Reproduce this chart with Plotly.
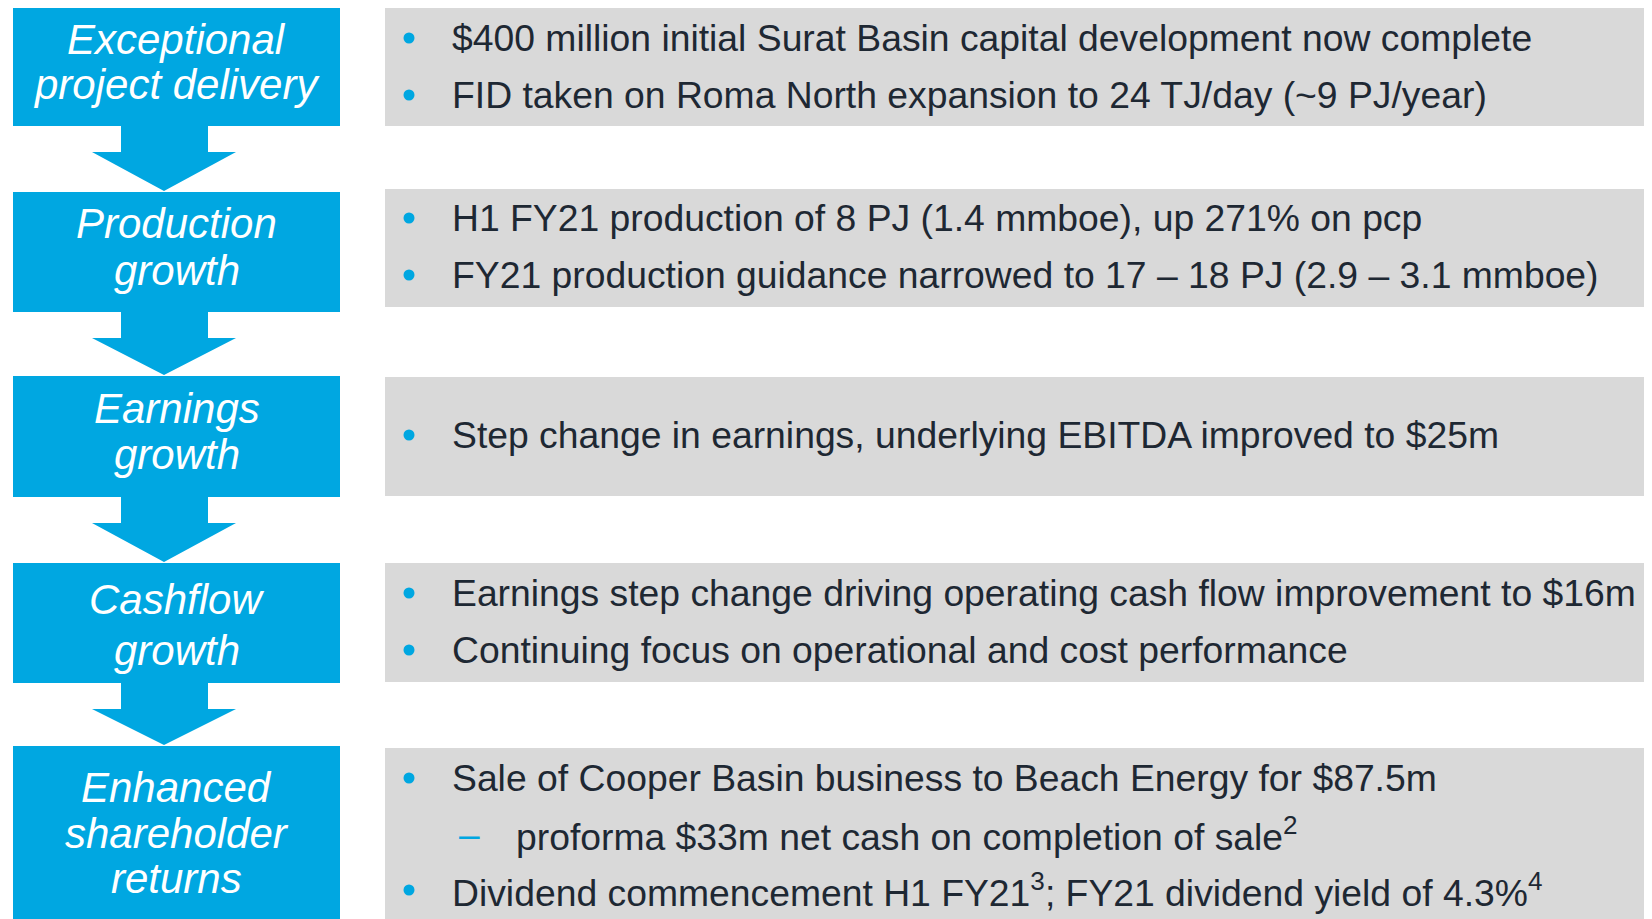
import plotly.graph_objects as go

W, H = 1652, 919
PAGE_PAD = 8  # browser's default body margin around the plot div

BLUE = "#00a7e1"
GREY = "#d9d9d9"
INK = "#1e2833"
FONT = "Arial, Liberation Sans, sans-serif"

# left-hand stages (one entry per line of label)
stage_labels = [
    ["Exceptional", "project delivery"],
    ["Production", "growth"],
    ["Earnings", "growth"],
    ["Cashflow", "growth"],
    ["Enhanced", "shareholder", "returns"],
]

# right-hand points: (level, text) — level 0 = bullet, 1 = dash sub-point
stage_points = [
    [(0, "$400 million initial Surat Basin capital development now complete"),
     (0, "FID taken on Roma North expansion to 24 TJ/day (~9 PJ/year)")],
    [(0, "H1 FY21 production of 8 PJ (1.4 mmboe), up 271% on pcp"),
     (0, "FY21 production guidance narrowed to 17 – 18 PJ (2.9 – 3.1 mmboe)")],
    [(0, "Step change in earnings, underlying EBITDA improved to $25m")],
    [(0, "Earnings step change driving operating cash flow improvement to $16m"),
     (0, "Continuing focus on operational and cost performance")],
    [(0, "Sale of Cooper Basin business to Beach Energy for $87.5m"),
     (1, "proforma $33m net cash on completion of sale<sup>2</sup>"),
     (0, "Dividend commencement H1 FY21<sup>3</sup>; FY21 dividend yield of 4.3%<sup>4</sup>")],
]

# layout geometry (page pixels, y downwards)
left_boxes = [(7, 126), (192, 312), (376, 497), (563, 683), (746, 925)]
grey_boxes = [(7, 126), (189, 307), (377, 496), (563, 682), (748, 925)]
label_y = [[39, 84], [223, 270], [408, 454], [599, 650], [787, 833, 878]]
point_y = [[38, 95], [218, 275], [435], [593, 650], [778, 834, 890]]

BOX_X0, BOX_X1 = 13, 340
SHAFT_X0, SHAFT_X1 = 121, 208
HEAD_X0, HEAD_X1, TIP_X = 92, 236, 164
GREY_X0 = 385
BULLET_X, TEXT_X = 409, 450
DASH_X, SUB_X = 469, 514

fig = go.Figure()
shapes = []
annotations = []

for i, labels in enumerate(stage_labels):
    y0, y1 = left_boxes[i]
    shapes.append(dict(type="rect", x0=BOX_X0, x1=BOX_X1, y0=y0, y1=y1,
                       fillcolor=BLUE, line_width=0, layer="below"))
    g0, g1 = grey_boxes[i]
    shapes.append(dict(type="rect", x0=GREY_X0, x1=W + 5, y0=g0, y1=g1,
                       fillcolor=GREY, line_width=0, layer="below"))

    # down arrow to next stage
    if i < len(stage_labels) - 1:
        top = y1 - 1
        neck = y1 + 26
        tip = left_boxes[i + 1][0] - 1
        path = (f"M {SHAFT_X0} {top} L {SHAFT_X1} {top} L {SHAFT_X1} {neck} "
                f"L {HEAD_X1} {neck} L {TIP_X} {tip} L {HEAD_X0} {neck} "
                f"L {SHAFT_X0} {neck} Z")
        shapes.append(dict(type="path", path=path, fillcolor=BLUE,
                           line_width=0, layer="below"))

    for text, y in zip(labels, label_y[i]):
        annotations.append(dict(
            x=(BOX_X0 + BOX_X1) / 2, y=y, text=f"<i>{text}</i>",
            showarrow=False, xanchor="center", yanchor="middle",
            font=dict(family=FONT, size=42, color="white")))

    bx, by = [], []
    for (level, text), y in zip(stage_points[i], point_y[i]):
        if level == 0:
            bx.append(BULLET_X)
            by.append(y)
            tx = TEXT_X
        else:
            annotations.append(dict(
                x=DASH_X, y=y, text="–", showarrow=False,
                xanchor="center", yanchor="middle",
                font=dict(family=FONT, size=37, color=BLUE)))
            tx = SUB_X
        annotations.append(dict(
            x=tx, y=y, text=text, showarrow=False,
            xanchor="left", yanchor="middle",
            font=dict(family=FONT, size=37.3, color=INK)))

    fig.add_trace(go.Scatter(
        x=bx, y=by, mode="markers", hoverinfo="skip", showlegend=False,
        marker=dict(size=11, color=BLUE, line_width=0)))

fig.update_layout(
    width=W - PAGE_PAD, height=H - PAGE_PAD,
    margin=dict(l=0, r=0, t=0, b=0),
    paper_bgcolor="white", plot_bgcolor="white",
    shapes=shapes, annotations=annotations,
    xaxis=dict(range=[PAGE_PAD, W], visible=False, fixedrange=True),
    yaxis=dict(range=[H, PAGE_PAD], visible=False, fixedrange=True),
    showlegend=False,
)

fig.write_html("out.html", config={"displayModeBar": False})
